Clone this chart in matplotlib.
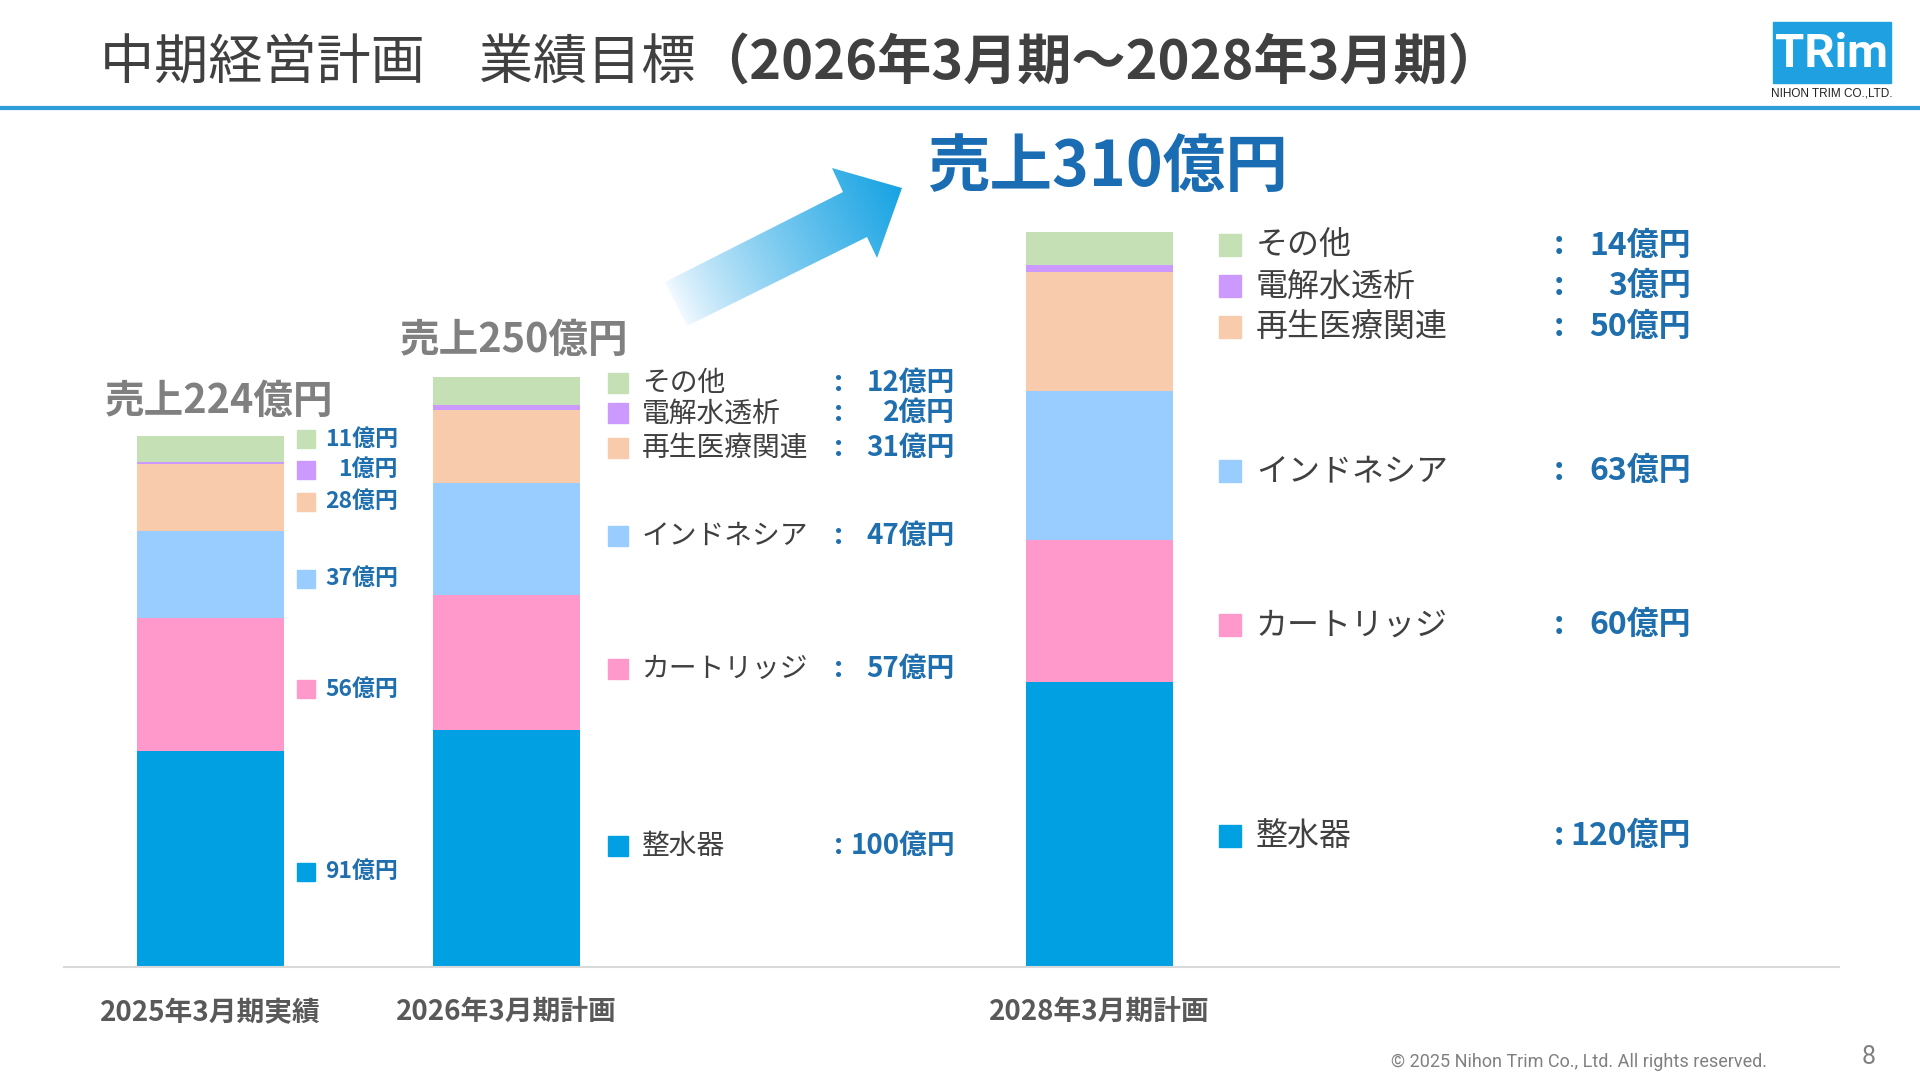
import numpy as np
import matplotlib
matplotlib.use('Agg')
import matplotlib.pyplot as plt
import matplotlib.transforms as mtransforms
from matplotlib.patches import Polygon, Rectangle

plt.rcParams['font.family'] = ['Noto Sans CJK JP', 'DejaVu Sans']

# data (億円)
periods = ['2025年3月期実績', '2026年3月期計画', '2028年3月期計画']
segments = ['整水器', 'カートリッジ', 'インドネシア', '再生医療関連', '電解水透析', 'その他']
seisuiki = [91, 100, 120]
cartridge = [56, 57, 60]
indonesia = [37, 47, 63]
saisei = [28, 31, 50]
denkai = [1, 2, 3]
sonota = [11, 12, 14]
totals = [224, 250, 310]

colors = ['#00a0e3', '#ff99cc', '#99ccff', '#f8cbad', '#cc99ff', '#c5e0b4']
values = [seisuiki, cartridge, indonesia, saisei, denkai, sonota]

W, H = 1920, 1080
fig = plt.figure(figsize=(19.2, 10.8), dpi=100)

# decoration layer in pixel coords
deco = fig.add_axes([0, 0, 1, 1])
deco.set_xlim(0, W)
deco.set_ylim(H, 0)
deco.axis('off')

# title
t1 = deco.text(100, 64, '中期経営計画　業績目標', fontsize=39, color='#404040', va='center', ha='left')
deco.annotate('（2026年3月期～2028年3月期）', xy=(1, 0.5), xycoords=t1, fontsize=39,
              fontweight='bold', color='#404040', va='center', ha='left')
deco.plot([0, W], [108, 108], color='#2e9ed8', lw=3, solid_capstyle='butt')

# logo
deco.add_patch(Rectangle((1773, 22), 118, 61, color='#1fa0e0'))
deco.text(1832, 54, 'TRim', fontsize=34, fontweight='bold', color='white',
          ha='center', va='center', family='Roboto')
deco.text(1832, 94, 'NIHON TRIM CO.,LTD.', fontsize=8.5, color='#222222',
          ha='center', va='center', family='Liberation Sans')

# gradient arrow
pts = np.array([(665, 282), (843, 192), (832, 168), (902, 188), (877, 258), (867, 237), (687, 326)])
poly = Polygon(pts, closed=True, facecolor='none', edgecolor='none')
deco.add_patch(poly)
x0, x1 = pts[:, 0].min(), pts[:, 0].max()
y0, y1 = pts[:, 1].min(), pts[:, 1].max()
gx, gy = np.meshgrid(np.linspace(x0, x1, 300), np.linspace(y0, y1, 200))
tail = np.array([676, 304])
tip = np.array([902, 188])
u = tip - tail
t = ((gx - tail[0]) * u[0] + (gy - tail[1]) * u[1]) / (u @ u)
t = np.clip(t, 0, 1)[..., None]
c0 = np.array([0.96, 0.98, 1.0])
c1 = np.array([0.09, 0.64, 0.89])
img = c0 + (c1 - c0) * t ** 0.8
im = deco.imshow(img, extent=(x0, x1, y1, y0), origin='upper', aspect='auto', zorder=2)
im.set_clip_path(poly)

# footer
deco.text(1767, 1062, '© 2025 Nihon Trim Co., Ltd. All rights reserved.', fontsize=13,
          color='#808080', ha='right', va='center', family='Roboto')
deco.text(1869, 1057, '8', fontsize=18, color='#808080', ha='center', va='center', family='Roboto')

# chart axes
left, right, base, top = 64, 1839, 967, 232
ax = fig.add_axes([left / W, (H - base) / H, (right - left) / W, (base - top) / H])
ax.set_facecolor('none')
ax.set_xlim(left, right)
ax.set_ylim(0, 310)
for s in ['left', 'right', 'top']:
    ax.spines[s].set_visible(False)
ax.spines['bottom'].set_color('#d9d9d9')
ax.spines['bottom'].set_linewidth(1.5)
ax.set_yticks([])

xpos = [210.5, 506.5, 1099.5]
bw = 147
bottom = np.zeros(3)
mids = []
for vals, col in zip(values, colors):
    v = np.array(vals, dtype=float)
    ax.bar(xpos, v, bottom=bottom, width=bw, color=col, linewidth=0)
    mids.append(bottom + v / 2)
    bottom = bottom + v
ax.set_xticks(xpos)
ax.set_xticklabels(periods, fontsize=20, fontweight='bold', color='#595959')
ax.tick_params(axis='x', length=0, pad=23)

VAL = '#1f6fae'
GREY = '#404040'


def offset(dy):
    return ax.transData + mtransforms.ScaledTranslation(0, dy / 72, fig.dpi_scale_trans)


def row_pos(i, k, step, nudge):
    # lower four rows sit at segment middles, the two thin ones stack above
    if k < 4:
        return mids[k][i], -nudge[k]
    return mids[3][i], step * (k - 3) - nudge[k]


# group 1: values only
nudge1 = [9, 3, 3, 3, 2, 2]
for k in range(6):
    y, dy = row_pos(0, k, 22, nudge1)
    ax.plot([306], [y], marker='s', ms=12.5, color=colors[k], transform=offset(dy), clip_on=False)
    ax.text(398, y, f'{values[k][0]}億円', fontsize=16.5, fontweight='bold', color=VAL,
            ha='right', va='center', transform=offset(dy))

# groups 2 and 3: legend rows
groups = [
    dict(i=1, sq=618, ms=14, txt=642, colon=839, val=955, fs=20, step=24,
         nudge=[-2, 5, -2, 1, 0, 2]),
    dict(i=2, sq=1230, ms=16.5, txt=1256, colon=1559, val=1691, fs=23, step=29.5,
         nudge=[8, 10, 4, -3, -3, -3]),
]
for g in groups:
    i = g['i']
    for k in range(6):
        y, dy = row_pos(i, k, g['step'], g['nudge'])
        tr = offset(dy)
        ax.plot([g['sq']], [y], marker='s', ms=g['ms'], color=colors[k], transform=tr, clip_on=False)
        ax.text(g['txt'], y, segments[k], fontsize=g['fs'], color=GREY, ha='left', va='center', transform=tr)
        ax.text(g['colon'], y, ':', fontsize=g['fs'], fontweight='bold', color=VAL, ha='center',
                va='center', transform=tr)
        ax.text(g['val'], y, f'{values[k][i]}億円', fontsize=g['fs'], fontweight='bold', color=VAL,
                ha='right', va='center', transform=tr)

# totals above bars
tops = bottom
ax.text(105, tops[0], f'売上{totals[0]}億円', fontsize=28.5, fontweight='bold', color='#808080',
        ha='left', va='center', transform=offset(25))
ax.text(400, tops[1], f'売上{totals[1]}億円', fontsize=28.5, fontweight='bold', color='#808080',
        ha='left', va='center', transform=offset(26))
ax.text(927, tops[2], f'売上{totals[2]}億円', fontsize=45, fontweight='bold', color='#1a6db3',
        ha='left', va='center', transform=offset(46))

fig.savefig('out.png', dpi=100)
